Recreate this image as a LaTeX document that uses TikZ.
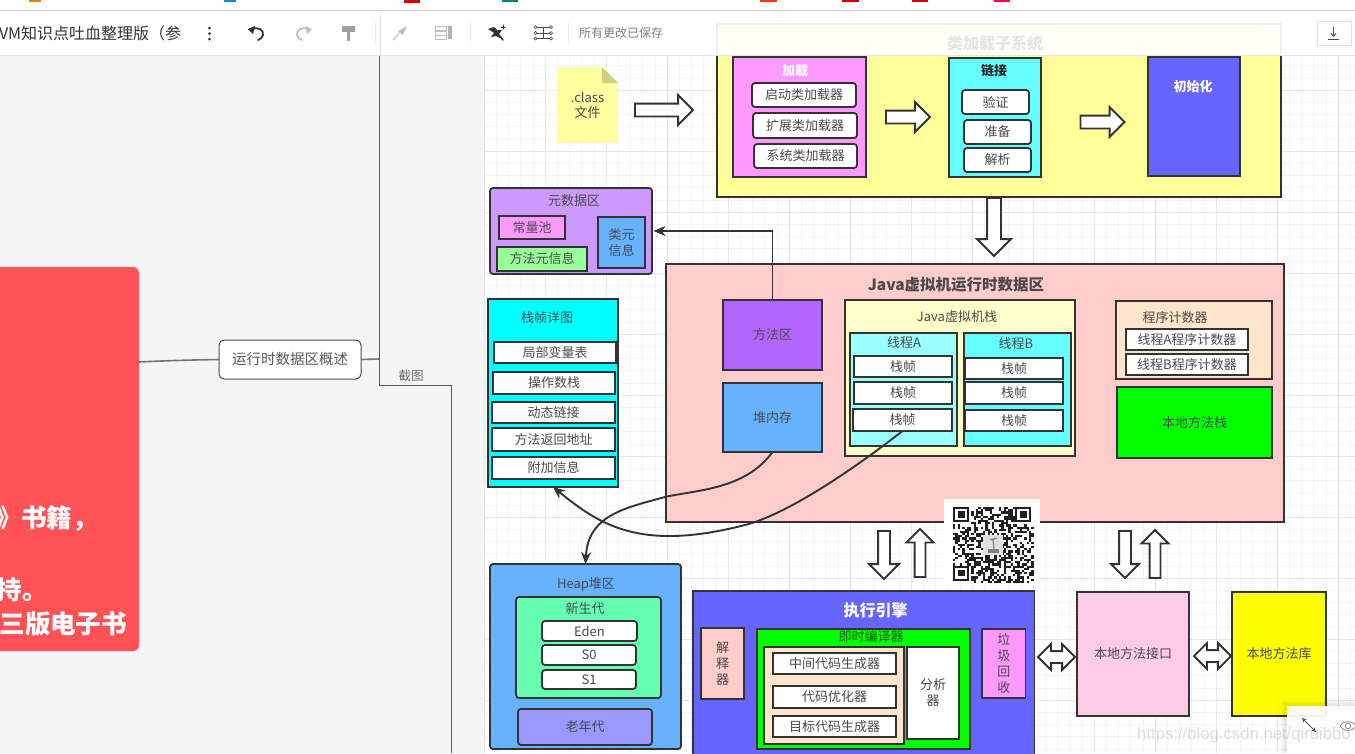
\documentclass[tikz,border=0pt]{standalone}
\usepackage{fontspec}
\setmainfont{Noto Sans CJK SC}
\newfontfamily\wmfont{Liberation Sans}
\usetikzlibrary{shapes.arrows,arrows.meta,calc}
\definecolor{edgec}{HTML}{333333}
\definecolor{inkc}{HTML}{4A4A4A}
\definecolor{gridmin}{HTML}{F2F2F2}
\definecolor{gridmaj}{HTML}{E6E6E6}
\definecolor{panelc}{HTML}{F5F5F5}
\definecolor{redc}{HTML}{FF5257}
\definecolor{noteY}{HTML}{FFFFA0}
\definecolor{foldY}{HTML}{CFCF80}
\definecolor{yelB}{HTML}{FFFF99}
\definecolor{magB}{HTML}{FF99FF}
\definecolor{cyaB}{HTML}{66FFFF}
\definecolor{bluB}{HTML}{6666FF}
\definecolor{purB}{HTML}{CC99FF}
\definecolor{grnB}{HTML}{99FF99}
\definecolor{skyB}{HTML}{66B2FF}
\definecolor{pinkB}{HTML}{FFCCCC}
\definecolor{violB}{HTML}{B266FF}
\definecolor{creamB}{HTML}{FFFFCC}
\definecolor{lcyaB}{HTML}{99FFFF}
\definecolor{peachB}{HTML}{FFE5CC}
\definecolor{mintB}{HTML}{66FFB2}
\definecolor{lavB}{HTML}{9999FF}
\definecolor{rosB}{HTML}{FFCCE5}
\definecolor{fullcyan}{HTML}{00FFFF}
\definecolor{fullgreen}{HTML}{00FF00}
\definecolor{fullyellow}{HTML}{FFFF00}
\tikzset{
  x=1pt,y=-1pt,
  base/.style={draw=edgec,line width=1.8pt,inner sep=0pt,outer sep=0pt,align=center,text=inkc,
     font=\fontsize{13}{16}\selectfont},
  sq/.style={base,rectangle},
  rnd/.style={base,rectangle,rounded corners=3pt},
  txt/.style={inner sep=0pt,outer sep=0pt,align=center,text=inkc,font=\fontsize{13}{16}\selectfont},
  boldw/.style={txt,text=white,font=\fontsize{13}{16}\selectfont\bfseries},
  blockarrow/.style={draw=edgec,line width=1.8pt,fill=white,inner xsep=0pt,outer sep=0pt,miter limit=10},
  conn/.style={draw=edgec,line width=1.9pt,-{Stealth[length=12pt,width=10pt]}},
  thin line/.style={draw=black!65,line width=1pt},
  tool/.style={draw=#1,line width=1.5pt,line cap=round,line join=round},
}
% \bx{name}{x1}{y1}{x2}{y2}{style}{text}
\newcommand\bx[7]{%
  \pgfmathsetmacro\bxw{#4-#2}\pgfmathsetmacro\bxh{#5-#3}%
  \pgfmathsetmacro\bxx{(#2+#4)/2}\pgfmathsetmacro\bxy{(#3+#5)/2}%
  \node[#6,minimum width=\bxw pt,minimum height=\bxh pt] (#1) at (\bxx,\bxy) {#7};}
\newcommand\lbl[5]{\node[#4] (#1) at (#2,#3) {#5};}
% \blk{name}{xc}{yc}{angle}{length}{shaft half}{head half}: placed by its tail
\newcommand\blk[7]{%
  \pgfmathsetmacro\bkw{2*#7}\pgfmathsetmacro\bke{#7-#6}%
  \pgfmathsetmacro\bkx{#2-(#5/2-1)*cos(#4)}\pgfmathsetmacro\bky{#3+(#5/2-1)*sin(#4)}%
  \pgfmathsetmacro\bkl{#5-2}%
  \node[blockarrow,single arrow,single arrow head extend=\bke pt,inner ysep=#6pt,
        minimum height=\bkl pt,minimum width=\bkw pt,rotate=#4,anchor=tail] (#1) at (\bkx,\bky) {};}
\newcommand\dbl[6]{%
  \pgfmathsetmacro\bkw{2*#6}\pgfmathsetmacro\bke{#6-#5}%
  \node[blockarrow,double arrow,double arrow head extend=\bke pt,inner ysep=#5pt,
        minimum height=#4pt,minimum width=\bkw pt] (#1) at (#2,#3) {};}
\begin{document}
\begin{tikzpicture}
\useasboundingbox (0,0) rectangle (1355,753);
\clip (0,0) rectangle (1355,753);
\fill[white] (0,0) rectangle (1355,753);
% left panel
\fill[panelc] (0,55) rectangle (484,753);
% grid
\foreach \k in {0,...,72} {\draw[gridmin,line width=.6pt] ({484+12.2*\k},55) -- ({484+12.2*\k},753);}
\foreach \k in {0,...,57} {\draw[gridmin,line width=.6pt] (484,{53.4+12.2*\k}) -- (1355,{53.4+12.2*\k});}
\foreach \k in {0,...,14} {\draw[gridmaj,line width=.7pt] ({484+61*\k},55) -- ({484+61*\k},753);}
\foreach \k in {0,...,11} {\draw[gridmaj,line width=.7pt] (484,{90+61*\k}) -- (1355,{90+61*\k});}

% mind map side
\bx{redp}{-12}{267}{139}{651}{rectangle,rounded corners=6pt,fill=redc,inner sep=0pt,outer sep=0pt}{}
\lbl{r1}{-4}{519}{txt,anchor=west,text=white,font=\fontsize{25.5}{28}\selectfont\bfseries}{》书籍，}
\lbl{r2}{-3}{590}{txt,anchor=west,text=white,font=\fontsize{25.5}{28}\selectfont\bfseries}{持。}
\lbl{r3}{127}{624}{txt,anchor=east,text=white,font=\fontsize{25.5}{28}\selectfont\bfseries}{三版电子书}
\bx{ovw}{219}{340}{361}{379}{rectangle,rounded corners=5pt,draw=black!70,line width=1pt,fill=white,inner sep=0pt,outer sep=0pt,text=black!65,font=\fontsize{14.5}{16}\selectfont}{运行时数据区概述}
\coordinate (redport) at (139,362);
\coordinate (spineT) at (379.7,55);
\coordinate (spineM) at (379.7,359);
\coordinate (spineC) at (379.7,385);
\coordinate (spineR) at (451,385);
\coordinate (spineB) at (451,753);
\draw[black!55,line width=1.6pt] (redport) .. controls (170,360.5) and (190,360) .. (ovw.west);
\draw[black!55,line width=1.6pt] (ovw.east) -- (spineM);
\draw[thin line] (spineT) -- (spineC) -- (spineR) -- (spineB);
\lbl{shot}{411}{376}{txt,text=black!60,font=\fontsize{12.5}{15}\selectfont}{截图}

% class loader
\bx{loader}{717}{24}{1281}{197}{sq,fill=yelB}{}
\bx{note}{557}{67}{618}{143}{rectangle,fill=noteY,inner sep=0pt,outer sep=0pt,align=center,text=inkc,font=\fontsize{13}{15}\selectfont}{.class\\文件}
\fill[white] (602,67) -- (618.5,67) -- (618.5,83) -- cycle;
\fill[foldY] (602,67) -- (618,83) -- (602,83) -- cycle;
\blk{a1}{664}{110}{0}{60}{5.5}{14}
\bx{load}{733}{57}{866}{177}{sq,fill=magB}{}
\lbl{loadl}{795}{71}{boldw}{加载}
\bx{l1}{752}{83}{856}{107}{rnd,fill=white}{启动类加载器}
\bx{l2}{753}{113}{857}{138}{rnd,fill=white}{扩展类加载器}
\bx{l3}{754}{144}{857}{168}{rnd,fill=white}{系统类加载器}
\blk{a2}{908}{117}{0}{46}{5.5}{14}
\bx{link}{949}{58}{1041}{177}{sq,fill=cyaB}{}
\lbl{linkl}{994}{71}{txt,text=black!85,font=\fontsize{13}{16}\selectfont\bfseries}{链接}
\bx{k1}{962}{90}{1029}{114}{rnd,fill=white}{验证}
\bx{k2}{964}{120}{1031}{144}{rnd,fill=white}{准备}
\bx{k3}{964}{148}{1031}{172}{rnd,fill=white}{解析}
\blk{a3}{1102.5}{122}{0}{46}{5.5}{14}
\bx{init}{1148}{57}{1240}{176}{sq,fill=bluB}{}
\lbl{initl}{1193}{87}{boldw}{初始化}
\blk{a4}{994}{227}{-90}{60}{6}{16}

% metadata
\bx{meta}{490}{188}{652}{274}{rnd,fill=purB}{}
\lbl{metal}{574}{201}{txt}{元数据区}
\bx{cpool}{499}{216}{565}{239}{sq,fill=magB}{常量池}
\bx{mmeta}{497}{247}{587}{271}{sq,fill=grnB}{方法元信息}
\bx{cmeta}{598}{217}{645}{268}{sq,fill=skyB}{类元\\信息}

% stack frame detail
\bx{frames}{488}{299}{618}{487}{sq,fill=fullcyan}{}
\lbl{framel}{547}{318}{txt}{栈帧详图}
\bx{f1}{494}{342}{616}{363}{sq,fill=white}{局部变量表}
\bx{f2}{493}{372}{615}{394}{sq,fill=white}{操作数栈}
\bx{f3}{492}{402}{615}{423}{sq,fill=white}{动态链接}
\bx{f4}{492}{428}{615}{451}{sq,fill=white}{方法返回地址}
\bx{f5}{492}{457}{615}{479}{sq,fill=white}{附加信息}

% runtime data area
\bx{rt}{666}{264}{1284}{522}{sq,fill=pinkB}{}
\lbl{rtl}{956}{285}{txt,font=\fontsize{15.5}{18}\selectfont\bfseries}{Java虚拟机运行时数据区}
\bx{method}{723}{300}{822}{370}{sq,fill=violB}{方法区}
\bx{heap}{723}{383}{822}{452}{sq,fill=skyB}{堆内存}
\bx{jstack}{845}{300}{1075}{456}{sq,fill=creamB}{}
\lbl{jstackl}{957}{317}{txt}{Java虚拟机栈}
\bx{ta}{850}{333}{957}{446}{sq,fill=lcyaB}{}
\lbl{tal}{904}{343}{txt}{线程A}
\bx{ta1}{854}{356}{952}{377}{sq,fill=white}{栈帧}
\bx{ta2}{854}{382}{952}{404}{sq,fill=white}{栈帧}
\bx{ta3}{853}{409}{952}{431}{sq,fill=white}{栈帧}
\bx{tb}{964}{333}{1071}{446}{sq,fill=cyaB}{}
\lbl{tbl}{1016}{344}{txt}{线程B}
\bx{tb1}{965}{358}{1063}{379}{sq,fill=white}{栈帧}
\bx{tb2}{965}{382}{1063}{404}{sq,fill=white}{栈帧}
\bx{tb3}{965}{410}{1063}{431}{sq,fill=white}{栈帧}
\bx{pc}{1116}{301}{1272}{379}{sq,fill=peachB}{}
\lbl{pcl}{1175}{318}{txt}{程序计数器}
\bx{pca}{1126}{329}{1248}{350}{sq,fill=white}{线程A程序计数器}
\bx{pcb}{1126}{354}{1248}{375}{sq,fill=white}{线程B程序计数器}
\bx{nstack}{1117}{387}{1272}{458}{sq,fill=fullgreen}{本地方法栈}

% heap area
\bx{harea}{490}{564}{681}{749}{rnd,fill=skyB}{}
\lbl{harl}{586}{585}{txt}{Heap堆区}
\bx{young}{516}{597}{661}{698}{rnd,fill=mintB}{}
\lbl{youngl}{585}{609}{txt}{新生代}
\bx{eden}{542}{621}{637}{641}{rnd,fill=white}{Eden}
\bx{sz}{542}{645}{636}{665}{rnd,fill=white}{S0}
\bx{so}{542}{670}{636}{689}{rnd,fill=white}{S1}
\bx{old}{518}{709}{652}{745}{rnd,fill=lavB}{老年代}

% execution engine
\bx{exec}{693}{591}{1034.5}{775}{sq,fill=bluB}{}
\lbl{execl}{875.5}{610}{txt,text=white,font=\fontsize{16}{18}\selectfont\bfseries}{执行引擎}
\bx{interp}{701}{628}{744}{699}{sq,fill=pinkB}{解\\释\\器}
\bx{jit}{757}{629}{970}{749}{sq,fill=fullgreen}{}
\lbl{jitl}{871}{637}{txt,text=black!65!fullgreen}{即时编译器}
\bx{jiti}{764}{647}{904}{744}{sq,fill=peachB}{}
\bx{j1}{773}{653}{896}{674}{sq,fill=white}{中间代码生成器}
\bx{j2}{773}{686}{896}{708}{sq,fill=white}{代码优化器}
\bx{j3}{773}{716}{896}{737}{sq,fill=white}{目标代码生成器}
\bx{ana}{907}{647}{959}{739}{sq,fill=white}{分析\\器}
\bx{gc}{982}{629}{1025.5}{698}{sq,fill=magB,font=\fontsize{13}{16}\selectfont}{垃\\圾\\回\\收}

% native
\bx{nif}{1077}{592}{1189}{716}{sq,fill=rosB}{本地方法接口}
\bx{nlib}{1232}{592}{1326}{716}{sq,fill=fullyellow}{本地方法库}

% block arrows between areas
\blk{d1}{884}{555}{-90}{50}{5}{14}
\blk{u1}{920}{553}{90}{50}{4.5}{12.5}
\blk{d2}{1125}{554.5}{-90}{49}{5}{13}
\blk{u2}{1155}{554}{90}{50}{4.5}{12.5}
\dbl{e1}{1056.5}{657}{37}{5}{12}
\dbl{e2}{1212.5}{656}{37}{5}{12}

% connectors
\draw[conn,shorten >=1.5pt] (method.north) |- (meta.east);
\draw[conn] (heap.south) .. controls (745,490) and (695,490) .. (665,497) .. controls (625,508) and (588,515) .. (harea.north);
\draw[conn] (ta3.south) .. controls (850,472) and (785,515) .. (745,525) .. controls (640,552) and (600,525) .. (frames.south);

% QR
\fill[white] (944,499) rectangle (1040,585);
\begin{scope}[shift={(953,507)}]
\pgfmathsetseed{271}
\foreach \i in {0,...,34}{\foreach \j in {0,...,34}{%
  \pgfmathparse{rnd<0.5?1:0}%
  \ifnum\pgfmathresult=1
    \fill[black!88] ({\i*2.3},{\j*2.17}) rectangle ({(\i+1)*2.3},{(\j+1)*2.17});
  \fi}}
\foreach \a/\b in {0/0,27/0,0/27}{%
  \fill[white] ({(\a-0.0)*2.3},{(\b-0.0)*2.17}) rectangle ({(\a+8)*2.3},{(\b+8)*2.17});
  \fill[black!88] ({\a*2.3},{\b*2.17}) rectangle ({(\a+7)*2.3},{(\b+7)*2.17});
  \fill[white] ({(\a+1)*2.3},{(\b+1)*2.17}) rectangle ({(\a+6)*2.3},{(\b+6)*2.17});
  \fill[black!88] ({(\a+2)*2.3},{(\b+2)*2.17}) rectangle ({(\a+5)*2.3},{(\b+5)*2.17});}
\fill[black!12] (30,28) rectangle (50,48);
\fill[gray] (35,42) rectangle (46,46);
\draw[gray,line width=1.2pt] (37,33) -- (44,31) (40,33) -- (41,42);
\end{scope}

% toolbar
\fill[white,opacity=.92] (0,11) rectangle (1355,55);
\lbl{loadt}{995}{43}{txt,text=black!10,font=\fontsize{16}{18}\selectfont\bfseries}{类加载子系统}
\draw[black!10,line width=1pt] (0,55.5) -- (1355,55.5);
\draw[black!20,line width=1.2pt] (0,10.5) -- (1355,10.5);
\fill[orange!70!brown] (29,0) rectangle (41,2);
\fill[cyan!70!blue] (224,0) rectangle (236,2);
\fill[red!85!black] (404,0) rectangle (420,2.5);
\fill[teal] (502,0) rectangle (518,2);
\fill[red!60!orange] (760,0) rectangle (777,1.5);
\fill[red!80!black] (842,0) rectangle (859,1.5);
\fill[red!80!black] (912,0) rectangle (928,1.5);
\fill[red!70!magenta] (994,0) rectangle (1010,1.5);
\draw[black!8,line width=.8pt] (380,11) -- (380,55) (375,22) -- (375,45) (470,22) -- (470,45) (568,22) -- (568,45);
\begin{scope}
\clip (0,15) rectangle (187,50);
\lbl{doc}{-1}{33}{txt,anchor=west,text=black!80,font=\fontsize{16}{18}\selectfont}{VM知识点吐血整理版（参}
\end{scope}
\fill[black!80] (209.5,28) circle (1.5pt) (209.5,33.5) circle (1.5pt) (209.5,39) circle (1.5pt);
% undo / redo
\draw[tool=black!80,line width=1.8pt] (251,29.5) .. controls (258,26) and (264,30) .. (263,35) .. controls (262.5,38) and (260,39) .. (258,40);
\fill[black!80] (248,29) -- (255,26) -- (253,34) -- cycle;
\draw[tool=black!25,line width=1.8pt] (309,29.5) .. controls (302,26) and (296,30) .. (297,35) .. controls (297.5,38) and (300,39) .. (302,40);
\fill[black!25] (312,29) -- (305,26) -- (307,34) -- cycle;
% paint roller
\fill[black!38] (342,26) rectangle (355,32);
\draw[black!38,line width=2.4pt] (348.5,32) -- (348.5,41);
% pin
\draw[tool=black!25,line width=1pt] (393,40) -- (404,28);
\fill[black!25] (407,26) -- (398,31) -- (403,35) -- cycle;
% outline
\fill[black!30] (448,26) rectangle (452,39);
\draw[black!25,line width=.9pt] (435.5,26.5) rectangle (446,30.5) (435.5,31) rectangle (446,35) (435.5,35.5) rectangle (446,39.5);
% wand
\fill[black!80] (494,27) -- (497,30) -- (502,30) -- (499,34) -- (500,38) -- (496,36) -- (491,37) -- (494,33) -- (488,29) -- cycle;
\draw[tool=black!80] (499,35) -- (503,40);
\draw[tool=black!80,line width=1pt] (503,25) -- (503,29) (501,27) -- (505,27);
% structure
\draw[black!70,line width=.8pt] (536,27) -- (551,27) (536,33) -- (551,33) (536,38.5) -- (551,38.5) (543.5,27) -- (543.5,38.5);
\foreach \p in {(535.5,27),(535.5,33),(535.5,38.5),(551,27),(551,33),(551,38.5)}{\draw[black!70,line width=.7pt,fill=white] \p circle (1.5pt);}
\lbl{saved}{621}{33}{txt,text=black!50,font=\fontsize{12}{14}\selectfont}{所有更改已保存}
\bx{dl}{1317}{21}{1351}{45}{rectangle,draw=black!12,line width=.8pt,fill=white,inner sep=0pt,outer sep=0pt}{}
\draw[black!70,line width=.8pt,-{Straight Barb[length=3pt,width=5pt]}] (1333.5,27) -- (1333.5,37);
\draw[black!70,line width=.9pt] (1328,39.5) -- (1339,39.5);

% bottom-right overlay
\foreach \o/\c in {8/.02,5/.03,3/.04}{\fill[black,opacity=\c] ({1287-\o},{706-\o}) rectangle (1355,753);}
\fill[white,opacity=.93] (1287,706) rectangle (1355,753);
\draw[black!65,line width=.9pt,{Stealth[length=4.5pt,width=4.5pt]}-{Stealth[length=4.5pt,width=4.5pt]}] (1302,718) -- (1316,732);
\draw[black!50,line width=.7pt] (1340,726) .. controls (1344,720) and (1352,720) .. (1356,726);
\draw[black!50,line width=.7pt] (1340,726) .. controls (1344,732) and (1352,732) .. (1356,726);
\draw[black!50,line width=.7pt] (1348,726) circle (2.8pt);

% watermark
\lbl{wm}{1244}{735}{txt,text=black!35,opacity=.35,font=\wmfont\fontsize{16.7}{20}\selectfont}{https://blog.csdn.net/qiruibbo}
\end{tikzpicture}
\end{document}
